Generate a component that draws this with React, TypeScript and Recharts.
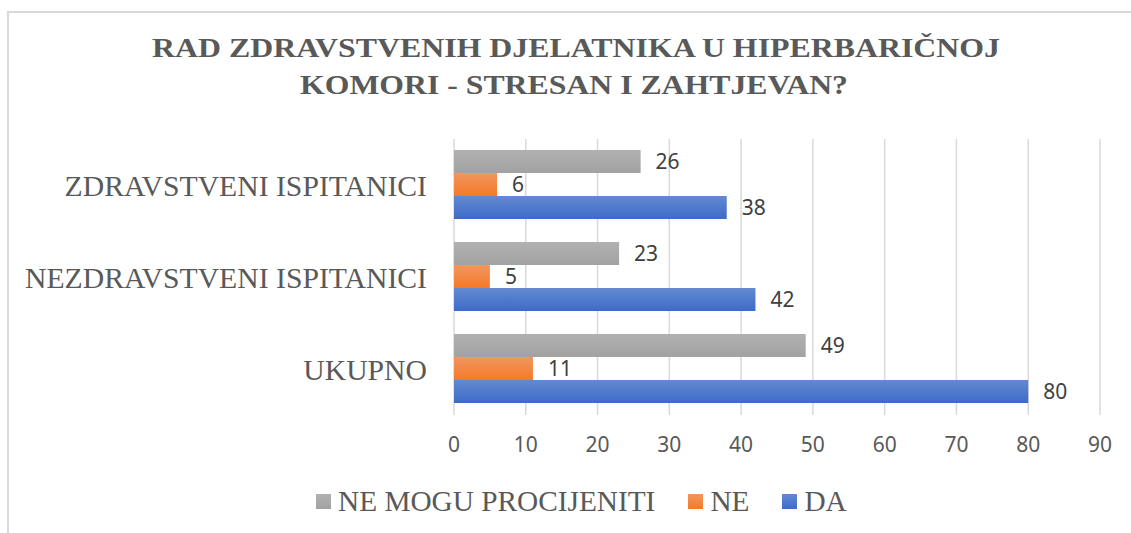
import React from "react";
import { BarChart, Bar, XAxis, YAxis, CartesianGrid, Legend, LabelList } from "recharts";

const categories = ["ZDRAVSTVENI ISPITANICI", "NEZDRAVSTVENI ISPITANICI", "UKUPNO"];
const neMoguProcijeniti = [26, 23, 49];
const ne = [6, 5, 11];
const da = [38, 42, 80];
const xTicks = [0, 10, 20, 30, 40, 50, 60, 70, 80, 90];
const titleLines = ["RAD ZDRAVSTVENIH DJELATNIKA U HIPERBARIČNOJ", "KOMORI - STRESAN I ZAHTJEVAN?"];

const series = [
  { key: "nmp", name: "NE MOGU PROCIJENITI", grad: "gGray", c1: "#b1b1b1", c2: "#a2a2a2", sw: "#a5a5a5" },
  { key: "ne", name: "NE", grad: "gOrange", c1: "#f1965f", c2: "#f47a28", sw: "#ed7d31" },
  { key: "da", name: "DA", grad: "gBlue", c1: "#6489d1", c2: "#3c6bc8", sw: "#4472c4" },
];

const data = categories.map((c, i) => ({ cat: c, nmp: neMoguProcijeniti[i], ne: ne[i], da: da[i] }));

const W = 1131;
const H = 533;
const SERIF = "'Liberation Serif', 'Times New Roman', serif";

const renderLegend = () => (
  <div style={{ display: "flex", alignItems: "center", marginLeft: 316, fontFamily: SERIF, fontSize: 29.3, color: "#595959", lineHeight: "34px" }}>
    {series.map((s, i) => (
      <div key={s.key} style={{ display: "flex", alignItems: "center", marginRight: i < series.length - 1 ? 33 : 0 }}>
        <div style={{ width: 15, height: 15, background: `linear-gradient(${s.c1}, ${s.c2})`, marginRight: 7 }} />
        <span>{s.name}</span>
      </div>
    ))}
  </div>
);

export default function App() {
  return (
    <div style={{ position: "absolute", left: 0, top: 0, width: W, height: H, background: "#fff", overflow: "hidden" }}>
      <div style={{ position: "absolute", left: 7, top: 11, width: W, height: H, borderLeft: "2px solid #d9d9d9", borderTop: "2px solid #d9d9d9" }} />
      <svg style={{ position: "absolute", left: 0, top: 0 }} width={W} height={120}>
        <text x={576} y={57} textAnchor="middle" textLength={848} lengthAdjust="spacingAndGlyphs" fontFamily={SERIF} fontWeight="bold" fontSize={27.5} fill="#595959">{titleLines[0]}</text>
        <text x={574} y={93.5} textAnchor="middle" textLength={548} lengthAdjust="spacingAndGlyphs" fontFamily={SERIF} fontWeight="bold" fontSize={27.5} fill="#595959">{titleLines[1]}</text>
      </svg>
      <div style={{ position: "absolute", left: 0, top: 0 }}>
        <BarChart width={W} height={H} data={data} layout="vertical" margin={{ top: 139, right: 31, left: 0, bottom: 15 }} barCategoryGap="12%" barGap={0}>
          <defs>
            {series.map((s) => (
              <linearGradient key={s.grad} id={s.grad} x1="0" y1="0" x2="0" y2="1">
                <stop offset="0%" stopColor={s.c1} />
                <stop offset="100%" stopColor={s.c2} />
              </linearGradient>
            ))}
          </defs>
          <CartesianGrid horizontal={false} vertical={true} stroke="#d9d9d9" strokeWidth={1.5} />
          <XAxis type="number" domain={[0, 90]} ticks={xTicks} axisLine={false} tickLine={false} tickSize={0} tickMargin={22} height={69} interval={0}
            tick={{ fill: "#595959", fontSize: 21, fontFamily: "'Noto Sans', sans-serif" }} />
          <YAxis type="category" dataKey="cat" width={454} axisLine={false} tickLine={false} tickSize={0} tickMargin={27}
            tick={{ fill: "#595959", fontSize: 29.7, fontFamily: SERIF }} />
          <Legend verticalAlign="bottom" align="left" content={renderLegend} wrapperStyle={{ left: 0, width: W, height: 34 }} />
          {series.map((s) => (
            <Bar key={s.key} dataKey={s.key} name={s.name} fill={`url(#${s.grad})`} isAnimationActive={false}>
              <LabelList dataKey={s.key} position="right" offset={15} fill="#404040" fontSize={21} fontFamily="'Noto Sans', sans-serif" />
            </Bar>
          ))}
        </BarChart>
      </div>
    </div>
  );
}
